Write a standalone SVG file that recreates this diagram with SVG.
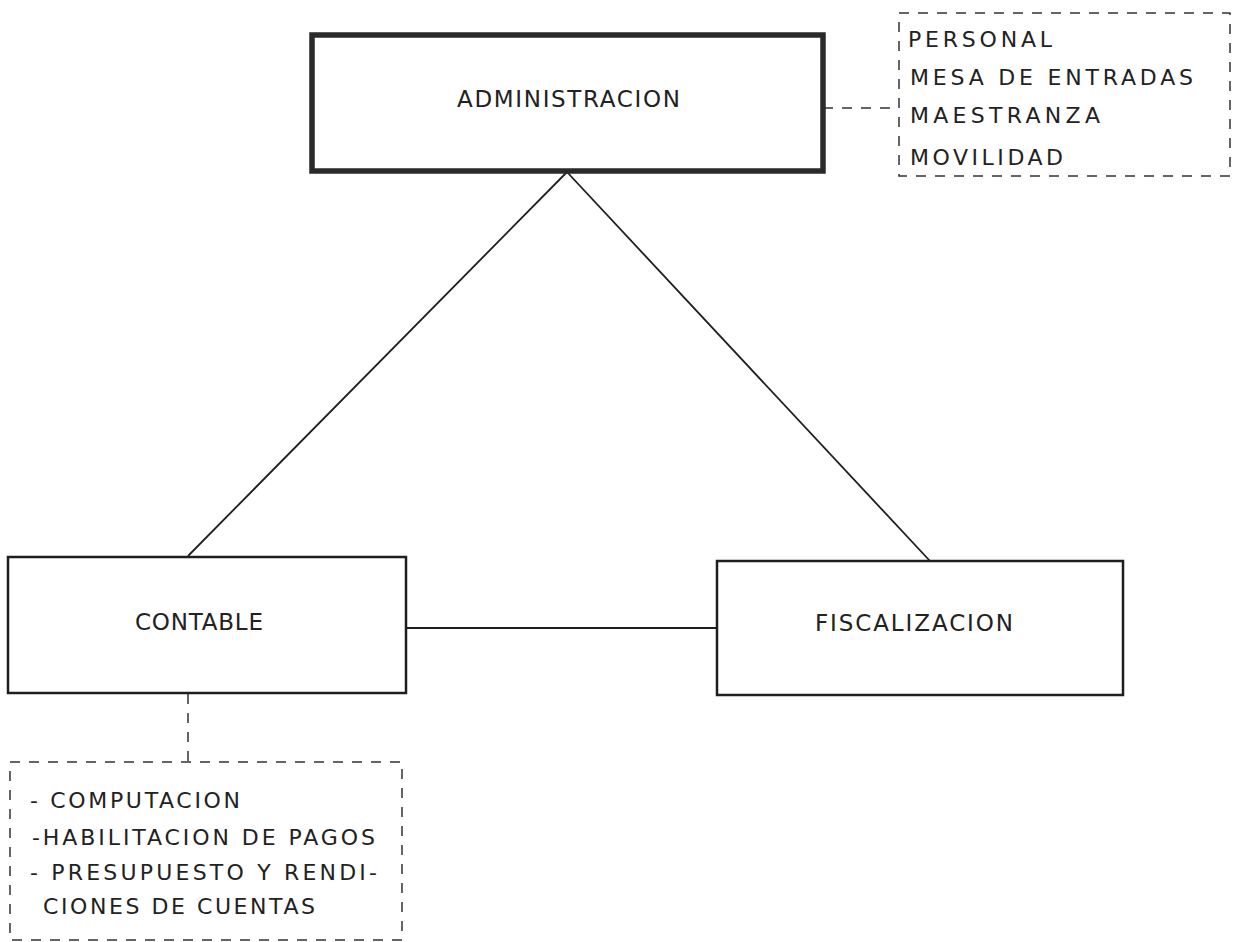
<svg xmlns="http://www.w3.org/2000/svg" width="1241" height="942" viewBox="0 0 1241 942">
  <style>
    .box { fill: none; stroke: #1e1e1e; stroke-width: 2.5; }
    .thick { fill: none; stroke: #2a2a2a; stroke-width: 5.5; }
    .dash { fill: none; stroke: #333; stroke-width: 1.5; stroke-dasharray: 10 9; }
    .line { fill: none; stroke: #1e1e1e; stroke-width: 1.8; }
    .lbl { font-family: "DejaVu Sans", "Liberation Sans", sans-serif; font-size: 23px; fill: #222; }
    .lst { font-family: "DejaVu Sans", "Liberation Sans", sans-serif; font-size: 22px; fill: #222; }
  </style>
  <rect width="1241" height="942" fill="#ffffff"/>

  <g id="connectors">
    <line class="line" x1="567" y1="172" x2="188" y2="556"/>
    <line class="line" x1="567" y1="172" x2="930" y2="561"/>
    <line class="line" x1="406" y1="628" x2="717" y2="628"/>
    <line class="dash" x1="823" y1="108" x2="898" y2="108"/>
    <line class="dash" x1="188" y1="694" x2="188" y2="762"/>
  </g>

  <g id="administracion">
    <rect class="thick" x="312" y="35" width="511" height="136"/>
    <text class="lbl" x="457" y="107" textLength="223" lengthAdjust="spacing">ADMINISTRACION</text>
  </g>

  <g id="admin-anexos">
    <rect class="dash" x="899" y="13" width="331" height="163"/>
    <text class="lst" x="908" y="47" textLength="144" lengthAdjust="spacing">PERSONAL</text>
    <text class="lst" x="910" y="85" textLength="283" lengthAdjust="spacing">MESA DE ENTRADAS</text>
    <text class="lst" x="910" y="123" textLength="190" lengthAdjust="spacing">MAESTRANZA</text>
    <text class="lst" x="910" y="165" textLength="153" lengthAdjust="spacing">MOVILIDAD</text>
  </g>

  <g id="contable">
    <rect class="box" x="8" y="557" width="398" height="136"/>
    <text class="lbl" x="135" y="630" textLength="128" lengthAdjust="spacing">CONTABLE</text>
  </g>

  <g id="fiscalizacion">
    <rect class="box" x="717" y="561" width="406" height="134"/>
    <text class="lbl" x="815" y="631" textLength="198" lengthAdjust="spacing">FISCALIZACION</text>
  </g>

  <g id="contable-anexos">
    <rect class="dash" x="10" y="762" width="392" height="178"/>
    <text class="lst" x="30" y="808" textLength="210" lengthAdjust="spacing">- COMPUTACION</text>
    <text class="lst" x="32" y="845" textLength="343" lengthAdjust="spacing">-HABILITACION DE PAGOS</text>
    <text class="lst" x="30" y="880" textLength="347" lengthAdjust="spacing">- PRESUPUESTO Y RENDI-</text>
    <text class="lst" x="43" y="914" textLength="272" lengthAdjust="spacing">CIONES DE CUENTAS</text>
  </g>
</svg>
